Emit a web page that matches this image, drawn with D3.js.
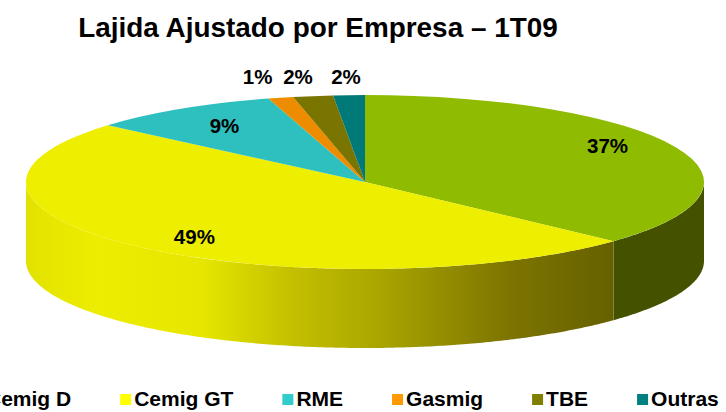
<!DOCTYPE html>
<html>
<head>
<meta charset="utf-8">
<script src="https://cdnjs.cloudflare.com/ajax/libs/d3/7.8.5/d3.min.js"></script>
<style>
  html, body { margin: 0; padding: 0; background: #fff; overflow: hidden; }
  text { font-family: "Liberation Sans", Arial, sans-serif; font-weight: bold; fill: #000; }
</style>
</head>
<body>
<div id="chart"></div>
<script>
const chartTitle = 'Lajida Ajustado por Empresa – 1T09'
const categories = ['Cemig D', 'Cemig GT', 'RME', 'Gasmig', 'TBE', 'Outras']
const shares = [36.9, 49.4, 9.1, 1.2, 1.9, 1.5]
const topColors = ['#8fbc00', '#eeee00', '#2ebfbf', '#ee8c00', '#7a7500', '#007a78']
const legendColors = ['#99cc00', '#ffff00', '#33cccc', '#ff9900', '#808000', '#008080']

const width = 726,
  height = 412
const cx = 365,
  cy = 182,
  rx = 339,
  ry = 87,
  depth = 79

const svg = d3
  .select('#chart')
  .append('svg')
  .attr('width', width)
  .attr('height', height)

svg
  .append('text')
  .attr('x', 318)
  .attr('y', 37)
  .attr('text-anchor', 'middle')
  .style('font-size', '27.9px')
  .text(chartTitle)

// Shade along the front wall of the big yellow slice
const defs = svg.append('defs')
const wallGradient = defs
  .append('linearGradient')
  .attr('id', 'wallGradient')
  .attr('gradientUnits', 'userSpaceOnUse')
  .attr('x1', cx - rx)
  .attr('x2', 613)
  .attr('y1', 0)
  .attr('y2', 0)
wallGradient
  .selectAll('stop')
  .data([
    [0, '#e2e200'],
    [0.12, '#eded00'],
    [0.3, '#e6e600'],
    [0.45, '#c4c000'],
    [0.6, '#aaa600'],
    [0.82, '#7d7500'],
    [1, '#666000'],
  ])
  .join('stop')
  .attr('offset', (d) => d[0])
  .attr('stop-color', (d) => d[1])

const pie = d3
  .pie()
  .sort(null)
  .value((d) => d)
const slices = pie(shares)

const pointAt = (angle, yOffset) => [
  cx + rx * Math.sin(angle),
  cy - ry * Math.cos(angle) + yOffset,
]

// Side wall of a slice, only the part facing the viewer (PI/2 to 3PI/2)
function wallPath(slice) {
  const start = Math.max(slice.startAngle, Math.PI / 2)
  const end = Math.min(slice.endAngle, (3 * Math.PI) / 2)
  if (start >= end) return null
  const angles = d3.range(start, end, 0.01).concat(end)
  const top = angles.map((a) => pointAt(a, 0))
  const bottom = angles.map((a) => pointAt(a, depth)).reverse()
  return d3.line()(top.concat(bottom)) + 'Z'
}

svg
  .append('g')
  .selectAll('path')
  .data(slices)
  .join('path')
  .attr('d', wallPath)
  .attr('fill', (d, i) => (i === 1 ? 'url(#wallGradient)' : '#445200'))

const arc = d3.arc().innerRadius(0).outerRadius(rx)

svg
  .append('g')
  .attr('transform', `translate(${cx},${cy}) scale(1,${ry / rx})`)
  .selectAll('path')
  .data(slices)
  .join('path')
  .attr('d', arc)
  .attr('fill', (d, i) => topColors[i])

// Big slices carry the label inside, the three thin ones sit above the rim
const labelAt = (d, i) => {
  const mid = (d.startAngle + d.endAngle) / 2
  if (i < 3) {
    const nudge = [[-6, -8], [10, 3], [7, 2]][i]
    const p = pointAt(mid, 0)
    return [cx + (p[0] - cx) * 0.8 + nudge[0], cy + (p[1] - cy) * 0.8 + nudge[1]]
  }
  const nudge = [-23, -15, -3][i - 3]
  return [pointAt(mid, 0)[0] + nudge, 77]
}

svg
  .append('g')
  .selectAll('text')
  .data(slices)
  .join('text')
  .attr('x', (d, i) => labelAt(d, i)[0])
  .attr('y', (d, i) => labelAt(d, i)[1])
  .attr('dy', '0.35em')
  .attr('text-anchor', 'middle')
  .style('font-size', '20.5px')
  .text((d) => d3.format('.0f')(d.value) + '%')

// Legend flows left to right, and its first entry runs off the left edge
const legend = svg.append('g')
let cursor = -28
categories.forEach((name, i) => {
  legend
    .append('rect')
    .attr('x', cursor)
    .attr('y', 394)
    .attr('width', 11)
    .attr('height', 11)
    .attr('fill', legendColors[i])
  const label = legend
    .append('text')
    .attr('x', cursor + 14)
    .attr('y', 406)
    .style('font-size', '21px')
    .text(name)
  cursor += 14 + label.node().getComputedTextLength() + 49
})
</script>
</body>
</html>
